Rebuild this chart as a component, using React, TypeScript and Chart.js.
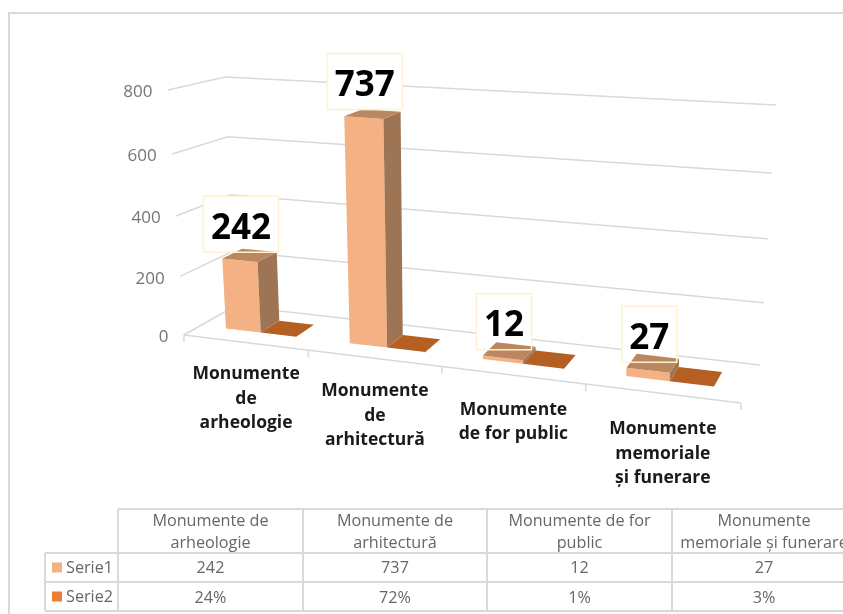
import React, { useEffect, useRef } from "react";
import { Chart, registerables } from "chart.js";

Chart.register(...registerables);

const categories: string[][] = [
  ["Monumente", "de", "arheologie"],
  ["Monumente", "de", "arhitectură"],
  ["Monumente", "de for public"],
  ["Monumente", "memoriale", "și funerare"],
];
const tableHeaders: string[][] = [
  ["Monumente de", "arheologie"],
  ["Monumente de", "arhitectură"],
  ["Monumente de for", "public"],
  ["Monumente", "memoriale și funerare"],
];
const seriesNames = ["Serie1", "Serie2"];
const serie1 = [242, 737, 12, 27];
const serie2Percent = [24, 72, 1, 3];

type P = [number, number];
const lerp = (a: P, b: P, t: number): P => [a[0] + (b[0] - a[0]) * t, a[1] + (b[1] - a[1]) * t];
const warpU = (u: number) => u / (u + 1.16 * (1 - u));
const warpT = (t: number) => (t <= 0 ? t : t / (t + 1.06 * (1 - t)));

// corners of the perspective box the library's scale space is projected into
const FL0: P = [184, 335], FLT: P = [168, 90], BL0: P = [235, 306], BLT: P = [225, 77];
const FR0: P = [741, 403], FRT: P = [756, 131], BR0: P = [760, 365], BRT: P = [776, 105];
const project = (u: number, t: number, d: number): P => {
  const tt = warpT(t);
  const l = lerp(lerp(FL0, BL0, d), lerp(FLT, BLT, d), tt);
  const r = lerp(lerp(FR0, BR0, d), lerp(FRT, BRT, d), tt);
  return lerp(l, r, warpU(u));
};
const D0 = 0.33, D1 = 0.72;

const GRID = "#D9D9D9";
const FONT = '"Open Sans", sans-serif';
const FACE = [
  { front: "#F4B183", side: "#9E7554", top: "#BB8760" },
  { front: "#ED7D31", side: "#A85A24", top: "#B55F22" },
];
const KEY = ["#F4B183", "#ED7D31"];

const poly = (ctx: CanvasRenderingContext2D, pts: P[], fill: string) => {
  ctx.beginPath();
  pts.forEach((p, i) => (i ? ctx.lineTo(p[0], p[1]) : ctx.moveTo(p[0], p[1])));
  ctx.closePath();
  ctx.fillStyle = fill;
  ctx.fill();
};

const scene3d = {
  id: "scene3d",
  beforeDatasetDraw: () => false,
  beforeDatasetsDraw(chart: any) {
    const ctx: CanvasRenderingContext2D = chart.ctx;
    const { x: xs, y: ys } = chart.scales;
    const W = xs.right - xs.left;
    const toU = (px: number) => (px - xs.left) / W;
    const toT = (px: number) => (ys.bottom - px) / (ys.bottom - ys.top);

    ctx.save();
    // chart frame
    ctx.strokeStyle = GRID;
    ctx.lineWidth = 2;
    ctx.beginPath();
    ctx.moveTo(9, 614);
    ctx.lineTo(9, 13);
    ctx.lineTo(843, 13);
    ctx.stroke();

    // walls and floor, and the value labels, from the value scale's ticks
    ctx.lineWidth = 1.5;
    ctx.font = `400 17px ${FONT}`;
    ctx.textAlign = "right";
    ctx.textBaseline = "middle";
    ys.ticks.forEach((tick: any) => {
      const t = toT(ys.getPixelForValue(tick.value));
      const a = project(0, t, 0), b = project(0, t, 1), c = project(1, t, 1);
      ctx.beginPath();
      ctx.moveTo(a[0], a[1]);
      ctx.lineTo(b[0], b[1]);
      ctx.lineTo(c[0], c[1]);
      ctx.stroke();
      ctx.fillStyle = "#757575";
      ctx.fillText(String(tick.value), a[0] - 15.5, a[1] + 2.5);
    });
    const n = chart.data.labels.length;
    const s = project(0, 0, 0), e = project(1, 0, 0);
    ctx.beginPath();
    ctx.moveTo(s[0], s[1]);
    ctx.lineTo(e[0], e[1]);
    for (let i = 0; i <= n; i++) {
      const p = project(i / n, 0, 0);
      ctx.moveTo(p[0], p[1]);
      ctx.lineTo(p[0], p[1] + 7);
    }
    ctx.stroke();

    // value label boxes, computed from the first series' elements
    const meta0 = chart.getDatasetMeta(0);
    const boxes = meta0.data.map((el: any, i: number) => {
      const hw = el.width / 2;
      const a = project(toU(el.x - hw), toT(el.y), D0);
      const b = project(toU(el.x + hw), toT(el.y), D0);
      const text = String(chart.data.datasets[0].data[i]);
      ctx.font = `700 35px ${FONT}`;
      const w = ctx.measureText(text).width + 15;
      return { text, w, h: 56, cx: (a[0] + b[0]) / 2 + 1, cy: (a[1] + b[1]) / 2 - 36 };
    });
    ctx.fillStyle = "#FFFFFF";
    boxes.forEach((b: any) => ctx.fillRect(b.cx - b.w / 2, b.cy - b.h / 2, b.w, b.h));

    // bars: 3D boxes from the bar elements
    for (let c = 0; c < n; c++) {
      [0, 1].forEach((ds) => {
        const el: any = chart.getDatasetMeta(ds).data[c];
        const u0 = toU(el.x - el.width / 2), u1 = toU(el.x + el.width / 2);
        const t1 = toT(el.y);
        const f = FACE[ds];
        poly(ctx, [project(u0, 0, D0), project(u1, 0, D0), project(u1, t1, D0), project(u0, t1, D0)], f.front);
        poly(ctx, [project(u1, 0, D0), project(u1, 0, D1), project(u1, t1, D1), project(u1, t1, D0)], f.side);
        poly(ctx, [project(u0, t1, D0), project(u1, t1, D0), project(u1, t1, D1), project(u0, t1, D1)], f.top);
      });
    }

    // box borders and numbers
    ctx.strokeStyle = "#FFF2CC";
    ctx.lineWidth = 1.5;
    ctx.textAlign = "center";
    ctx.textBaseline = "middle";
    boxes.forEach((b: any) => {
      ctx.strokeRect(b.cx - b.w / 2, b.cy - b.h / 2, b.w, b.h);
      ctx.font = `700 35px ${FONT}`;
      ctx.fillStyle = "#000000";
      ctx.fillText(b.text, b.cx, b.cy + 4.5);
    });

    // category labels following the sloping floor edge
    ctx.font = `700 17.5px ${FONT}`;
    ctx.fillStyle = "#1A1A1A";
    (chart.data.labels as string[][]).forEach((lines, i) => {
      const u = toU(xs.getPixelForValue(i));
      const p = project(u, 0, 0);
      lines.forEach((line, k) => ctx.fillText(line, p[0] + 1, p[1] + 31.5 + 5 * warpU(u) + k * 24.5));
    });

    // data table
    ctx.strokeStyle = GRID;
    ctx.lineWidth = 2;
    const vx = [118, 303, 487, 672];
    const hy = [509, 553, 582, 611];
    ctx.beginPath();
    vx.forEach((x) => {
      ctx.moveTo(x, hy[0]);
      ctx.lineTo(x, hy[3]);
    });
    ctx.moveTo(45, hy[1]);
    ctx.lineTo(45, hy[3]);
    ctx.moveTo(vx[0], hy[0]);
    ctx.lineTo(843, hy[0]);
    ctx.moveTo(45, hy[1]);
    ctx.lineTo(843, hy[1]);
    ctx.moveTo(45, hy[2]);
    ctx.lineTo(843, hy[2]);
    ctx.moveTo(45, hy[3]);
    ctx.lineTo(843, hy[3]);
    ctx.stroke();

    ctx.font = `400 16.2px ${FONT}`;
    ctx.fillStyle = "#666666";
    const centers = [210.5, 395, 579.5, 764];
    tableHeaders.forEach((lines, i) => {
      lines.forEach((l, k) => ctx.fillText(l, centers[i], 521.5 + k * 22));
    });
    serie1.forEach((v, i) => ctx.fillText(String(v), centers[i], 568.5));
    serie2Percent.forEach((v, i) => ctx.fillText(`${v}%`, centers[i], 598));
    ctx.textAlign = "left";
    seriesNames.forEach((name, i) => {
      const y = hy[1 + i] + 14.5;
      ctx.fillStyle = KEY[i];
      ctx.fillRect(52, y - 5, 10, 10);
      ctx.fillStyle = "#666666";
      ctx.fillText(name, 66, y + 1);
    });
    ctx.restore();
  },
};

export default function App() {
  const ref = useRef<HTMLCanvasElement>(null);
  useEffect(() => {
    const chart = new Chart(ref.current!, {
      type: "bar",
      data: {
        labels: categories as any,
        datasets: [
          { label: seriesNames[0], data: serie1, backgroundColor: KEY[0], categoryPercentage: 0.576, barPercentage: 1 },
          { label: seriesNames[1], data: serie2Percent.map((p) => p / 100), backgroundColor: KEY[1], categoryPercentage: 0.576, barPercentage: 1 },
        ],
      },
      options: {
        responsive: false,
        animation: false,
        layout: { padding: { top: 91, bottom: 279, right: 102, left: 0 } },
        plugins: { legend: { display: false }, tooltip: { enabled: false }, title: { display: false } },
        scales: {
          x: {
            afterFit: (s: any) => { s.height = 0; },
            grid: { display: false },
            border: { display: false },
            ticks: { display: false },
          },
          y: {
            min: 0,
            max: 800,
            afterFit: (s: any) => { s.width = 184; },
            grid: { display: false },
            border: { display: false },
            ticks: { display: false, stepSize: 200 },
          },
        },
      },
      plugins: [scene3d],
    } as any);
    return () => chart.destroy();
  }, []);
  return (
    <div style={{ position: "fixed", left: 0, top: 0, width: 843, height: 614, background: "#fff", overflow: "hidden" }}>
      <canvas ref={ref} width={843} height={614} style={{ display: "block" }} />
    </div>
  );
}
